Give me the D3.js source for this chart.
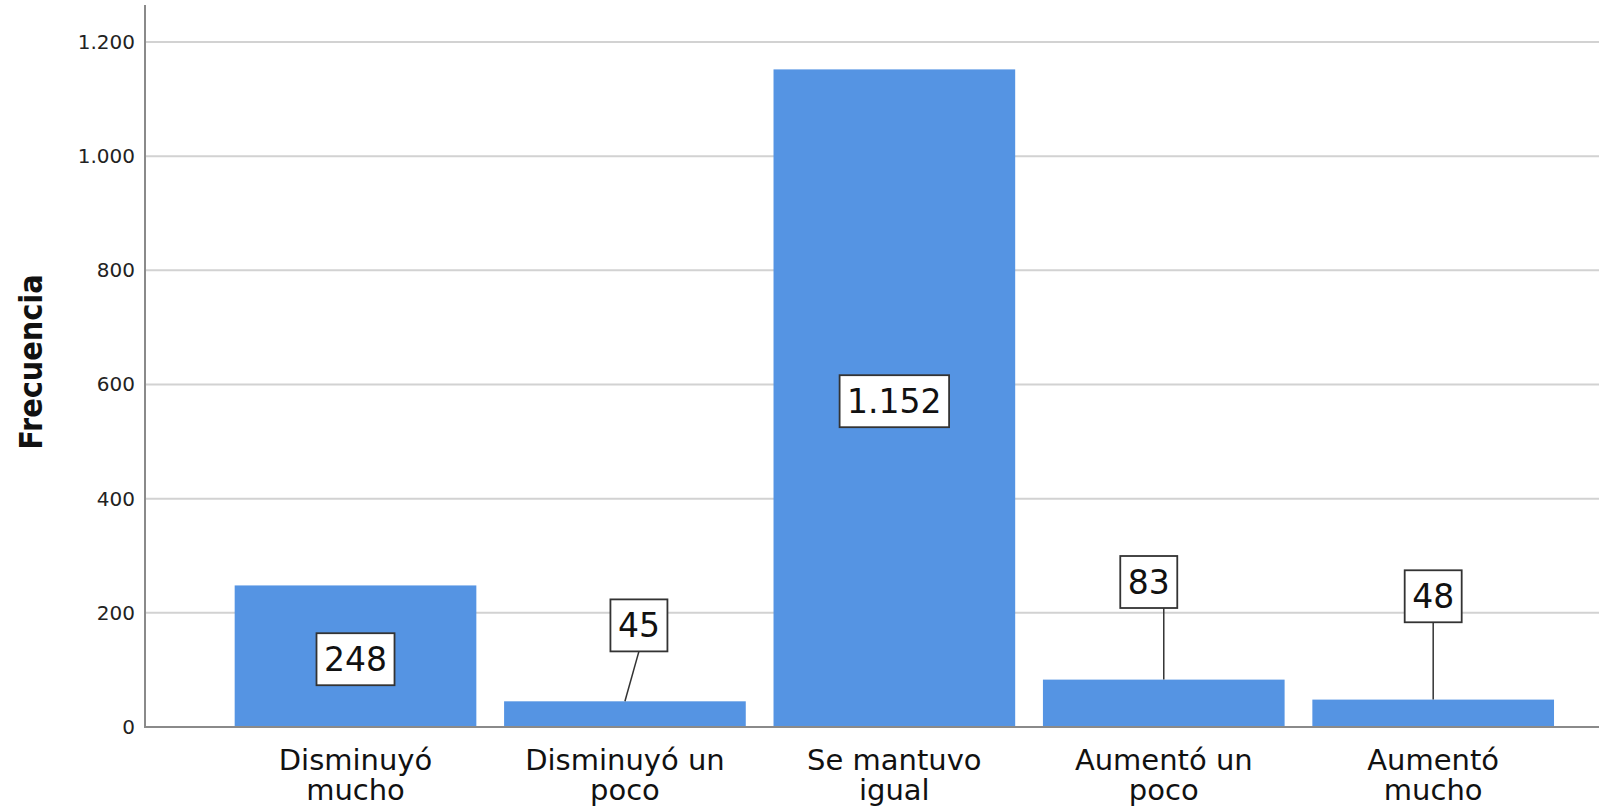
<!DOCTYPE html>
<html>
<head>
<meta charset="utf-8">
<script src="https://cdnjs.cloudflare.com/ajax/libs/d3/7.8.5/d3.min.js"></script>
<style>
  body { margin: 0; background: #fff; }
  svg { display: block; font-family: "DejaVu Sans", sans-serif; }
</style>
</head>
<body>
<svg id="chart" width="1599" height="809"></svg>
<script>
// categories (line break marks where the axis label wraps)
const categories = ['Disminuyó\nmucho', 'Disminuyó un\npoco', 'Se mantuvo\nigual', 'Aumentó un\npoco', 'Aumentó\nmucho']
const frecuencia = [248, 45, 1152, 83, 48]
const yTicks = [0, 200, 400, 600, 800, 1000, 1200]

// where the callout boxes for short bars sit (in data units, null = inside the bar)
const calloutAt = [null, 178, null, 254, 229]
const calloutDx = [0, 14, 0, -15, 0]

const W = 1599, H = 809
const svg = d3.select('#chart')

const es = d3.formatLocale({ decimal: ',', thousands: '.', grouping: [3], currency: ['', ' €'] })
const fmt = es.format(',d')

const x = d3.scaleBand()
    .domain(categories)
    .range([220.8, 1567.9])
    .paddingInner(0.103)
    .paddingOuter(0.0515)

const y = d3.scaleLinear()
    .domain([0, 1200])
    .range([727, 42])

const axisX = 145

// grid lines
svg.append('g')
    .selectAll('line')
    .data(yTicks.filter(d => d > 0))
    .enter()
    .append('line')
    .attr('x1', axisX)
    .attr('x2', W)
    .attr('y1', d => y(d))
    .attr('y2', d => y(d))
    .attr('stroke', '#d2d2d2')
    .attr('stroke-width', 2)

// y axis, labels only
const yAxis = svg.append('g')
    .attr('transform', `translate(${axisX},0)`)
    .call(d3.axisLeft(y).tickValues(yTicks).tickFormat(fmt).tickSize(0).tickPadding(10))
yAxis.select('.domain').remove()
yAxis.selectAll('text')
    .attr('font-family', 'DejaVu Sans')
    .attr('font-size', 20)
    .attr('fill', '#222')

// bars
svg.append('g')
    .selectAll('rect')
    .data(frecuencia)
    .enter()
    .append('rect')
    .attr('x', (d, i) => x(categories[i]))
    .attr('y', d => y(d))
    .attr('width', x.bandwidth())
    .attr('height', d => y(0) - y(d))
    .attr('fill', '#5594e3')

// axis lines
svg.append('line')
    .attr('x1', axisX).attr('x2', axisX)
    .attr('y1', 5).attr('y2', y(0) + 1)
    .attr('stroke', '#8a8a8a')
    .attr('stroke-width', 2)
svg.append('line')
    .attr('x1', axisX).attr('x2', W)
    .attr('y1', y(0)).attr('y2', y(0))
    .attr('stroke', '#8a8a8a')
    .attr('stroke-width', 2)

// category labels, one text per line
const xLabels = svg.append('g')
    .selectAll('g')
    .data(categories)
    .enter()
    .append('g')
    .attr('transform', d => `translate(${x(d) + x.bandwidth() / 2},0)`)

xLabels.selectAll('text')
    .data(d => d.split('\n'))
    .enter()
    .append('text')
    .attr('text-anchor', 'middle')
    .attr('font-size', 29)
    .attr('fill', '#111')
    .attr('y', (d, i) => 770 + i * 30)
    .text(d => d)

// y title
svg.append('text')
    .attr('transform', 'translate(42,362) rotate(-90)')
    .attr('text-anchor', 'middle')
    .attr('font-family', "'DejaVu Sans Condensed', 'DejaVu Sans', sans-serif")
    .attr('font-weight', 'bold')
    .attr('font-size', 32)
    .attr('fill', '#111')
    .text('Frecuencia')

// value labels
const labels = svg.append('g')
frecuencia.forEach((v, i) => {
    const cx = x(categories[i]) + x.bandwidth() / 2
    const cy = calloutAt[i] === null ? (y(v) + y(0)) / 2 + 3 : y(calloutAt[i])
    const bx = cx + calloutDx[i]
    const g = labels.append('g')

    if (calloutAt[i] !== null) {
        const lineTop = Math.abs(calloutDx[i]) > 14 ? cx : bx
        g.append('line')
            .attr('x1', cx).attr('y1', y(v))
            .attr('x2', lineTop).attr('y2', cy + 26)
            .attr('stroke', '#333')
            .attr('stroke-width', 1.5)
    }

    const box = g.append('rect')
    const t = g.append('text')
        .attr('x', bx)
        .attr('y', cy)
        .attr('dy', '0.36em')
        .attr('text-anchor', 'middle')
        .attr('font-size', 33)
        .attr('fill', '#111')
        .text(fmt(v))
    const w = t.node().getComputedTextLength() + 15
    box.attr('x', bx - w / 2)
        .attr('y', cy - 26)
        .attr('width', w)
        .attr('height', 52)
        .attr('fill', '#fff')
        .attr('stroke', '#333')
        .attr('stroke-width', 1.8)
})
</script>
</body>
</html>
